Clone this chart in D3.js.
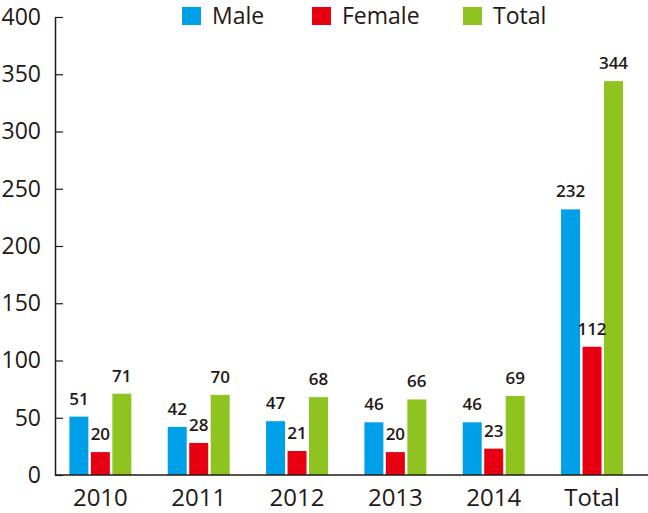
<!DOCTYPE html>
<html>
<head>
<meta charset="utf-8">
<script src="https://cdn.jsdelivr.net/npm/d3@7"></script>
<style>
  body { margin: 0; background: #fff; }
  svg text { font-family: "Open Sans", sans-serif; fill: #231815; }
</style>
</head>
<body>
<div id="chart"></div>
<script>
// chart data
const categories = ['2010', '2011', '2012', '2013', '2014', 'Total'];
const seriesNames = ['Male', 'Female', 'Total'];
const maleValues = [51, 42, 47, 46, 46, 232];
const femaleValues = [20, 28, 21, 20, 23, 112];
const totalValues = [71, 70, 68, 66, 69, 344];
const yTicks = [0, 50, 100, 150, 200, 250, 300, 350, 400];

const colors = ['#00a0e9', '#e60012', '#8fc31f'];
const seriesValues = [maleValues, femaleValues, totalValues];

const width = 648, height = 513;
const axisX = 55, baseY = 475, topY = 17;

const svg = d3.select('#chart')
    .append('svg')
    .attr('width', width)
    .attr('height', height);

// scales
const y = d3.scaleLinear().domain([0, 400]).range([baseY, topY]);

const x0 = d3.scaleBand()
    .domain(categories)
    .range([51.2, 641.2])
    .paddingInner(0.37)
    .paddingOuter(0.185);

const x1 = d3.scaleBand()
    .domain(seriesNames)
    .range([0, x0.bandwidth()])
    .paddingInner(0.116);

const color = d3.scaleOrdinal().domain(seriesNames).range(colors);

// flatten for drawing
const rows = categories.map((c, i) => ({
    cat: c,
    values: seriesNames.map((s, j) => ({ series: s, value: seriesValues[j][i] }))
}));

// bars
const group = svg.selectAll('.group')
    .data(rows)
    .enter()
    .append('g')
    .attr('class', 'group')
    .attr('transform', d => `translate(${x0(d.cat)},0)`);

group.selectAll('rect')
    .data(d => d.values)
    .enter()
    .append('rect')
    .attr('x', d => x1(d.series))
    .attr('y', d => y(d.value))
    .attr('width', x1.bandwidth())
    .attr('height', d => baseY - y(d.value))
    .attr('fill', d => color(d.series));

group.selectAll('.val')
    .data(d => d.values)
    .enter()
    .append('text')
    .attr('class', 'val')
    .attr('x', d => x1(d.series) + x1.bandwidth() / 2)
    .attr('y', d => y(d.value) - 12)
    .attr('text-anchor', 'middle')
    .style('font-size', '17px')
    .style('font-weight', 600)
    .text(d => d.value);

// y axis
const yAxis = d3.axisLeft(y)
    .tickValues(yTicks)
    .tickSizeInner(-8)
    .tickSizeOuter(0)
    .tickPadding(14);

const yg = svg.append('g')
    .attr('transform', `translate(${axisX},0)`)
    .call(yAxis);
yg.select('.domain').attr('stroke', '#231815').attr('stroke-width', 1.5);
yg.selectAll('.tick line').attr('stroke', '#231815').attr('stroke-width', 1.2);
yg.selectAll('.tick text')
    .style('font-size', '23px')
    .style('font-weight', 500)
    .attr('fill', '#231815');

// baseline
svg.append('line')
    .attr('x1', axisX)
    .attr('x2', width)
    .attr('y1', baseY)
    .attr('y2', baseY)
    .attr('stroke', '#231815')
    .attr('stroke-width', 1.5);

// category labels
svg.selectAll('.cat')
    .data(categories)
    .enter()
    .append('text')
    .attr('class', 'cat')
    .attr('x', d => x0(d) + x0.bandwidth() / 2)
    .attr('y', 506)
    .attr('text-anchor', 'middle')
    .style('font-size', '24px')
    .style('font-weight', 500)
    .text(d => d);

// legend
const legendX = [182, 312, 463];
const legend = svg.selectAll('.legend')
    .data(seriesNames)
    .enter()
    .append('g')
    .attr('class', 'legend')
    .attr('transform', (d, i) => `translate(${legendX[i]},7)`);

legend.append('rect')
    .attr('width', 19)
    .attr('height', 18)
    .attr('fill', d => color(d));

legend.append('text')
    .attr('x', 30)
    .attr('y', 17)
    .style('font-size', '23px')
    .style('font-weight', 500)
    .text(d => d);
</script>
</body>
</html>
